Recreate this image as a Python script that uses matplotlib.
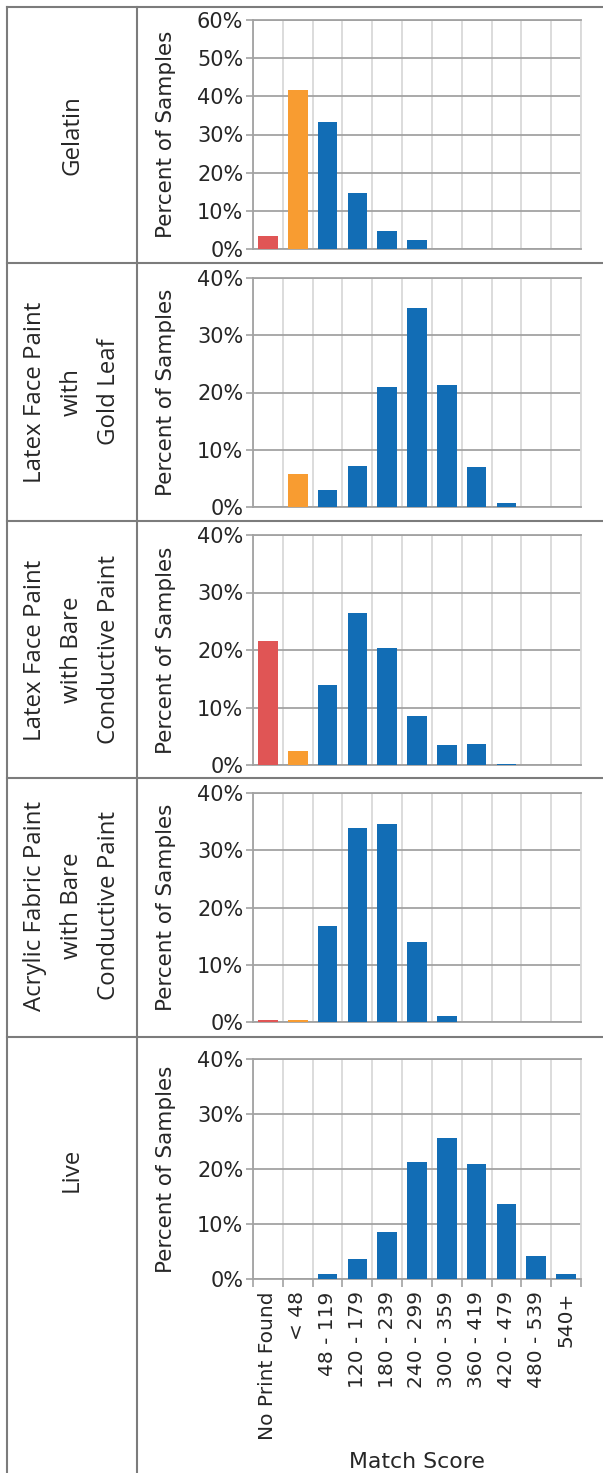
import numpy as np
import matplotlib.pyplot as plt
from matplotlib.lines import Line2D
from matplotlib.ticker import FuncFormatter

W, H = 603, 1473

categories = ['No Print Found', '< 48', '48 - 119', '120 - 179', '180 - 239',
              '240 - 299', '300 - 359', '360 - 419', '420 - 479', '480 - 539', '540+']

row_labels = ['Gelatin',
              'Latex Face Paint\nwith\nGold Leaf',
              'Latex Face Paint\nwith Bare\nConductive Paint',
              'Acrylic Fabric Paint\nwith Bare\nConductive Paint',
              'Live']

gelatin = [3.5, 41.7, 33.4, 14.7, 4.6, 2.3, 0, 0, 0, 0, 0]
latex_gold = [0, 5.8, 3.0, 7.2, 20.9, 34.8, 21.3, 6.9, 0.7, 0, 0]
latex_bare = [21.6, 2.4, 13.9, 26.4, 20.3, 8.5, 3.4, 3.7, 0.15, 0, 0]
acrylic_bare = [0.4, 0.4, 16.8, 33.9, 34.6, 14.0, 1.1, 0, 0, 0, 0]
live = [0, 0, 0.9, 3.6, 8.5, 21.3, 25.6, 20.9, 13.6, 4.2, 0.9]

series = [gelatin, latex_gold, latex_bare, acrylic_bare, live]
y_max = [60, 40, 40, 40, 40]

red, orange, blue = '#e05555', '#f89c31', '#126db5'
bar_colors = [red, orange] + [blue] * 9

dark_grid = '#a2a2a2'
light_grid = '#d9d9d9'
frame_col = '#7c7c7c'
text_col = '#262626'

plt.rcParams['font.family'] = ['DejaVu Sans']

fig = plt.figure(figsize=(W / 100, H / 100), dpi=100)

# axes boxes in pixels (top, bottom)
panels = [(20, 249), (278, 507), (535, 765), (793, 1022), (1059, 1279)]
row_lines = [7, 263, 521, 778, 1037]
label_mid = [135, 392, 650, 906, 1170]
ax_left, ax_right = 253, 581

x = np.arange(len(categories))

for k, vals in enumerate(series):
    top, bot = panels[k]
    ax = fig.add_axes([ax_left / W, 1 - bot / H, (ax_right - ax_left) / W, (bot - top) / H])
    ax.bar(x, vals, width=0.66, color=bar_colors, edgecolor='none', zorder=3)
    ax.set_xlim(-0.5, len(categories) - 0.5)
    ax.set_ylim(0, y_max[k])
    ax.set_yticks(np.arange(0, y_max[k] + 1, 10))
    ax.yaxis.set_major_formatter(FuncFormatter(lambda v, p: '%d%%' % v))
    ax.set_axisbelow(True)

    ax.set_xticks(np.arange(-0.5, len(categories)), minor=True)
    ax.grid(True, which='minor', axis='x', color=light_grid, lw=1.3)
    ax.grid(True, which='major', axis='y', color=dark_grid, lw=1.3)

    for s in ['left', 'bottom', 'top']:
        ax.spines[s].set_color(dark_grid)
        ax.spines[s].set_linewidth(1.3)
    ax.spines['right'].set_color(light_grid)
    ax.spines['right'].set_linewidth(1.3)

    ax.tick_params(axis='y', length=5, width=1.2, color=dark_grid, pad=2,
                   labelsize=15, labelcolor=text_col)
    ax.set_ylabel('Percent of Samples', fontsize=15.5, color=text_col)
    ax.yaxis.set_label_coords(-0.235, 0.5)

    if k == len(series) - 1:
        ax.set_xticks(x)
        ax.set_xticklabels(categories, rotation=90, fontsize=14.5, color=text_col)
        ax.tick_params(axis='x', which='major', length=0, pad=9)
        ax.tick_params(axis='x', which='minor', length=6, width=1.2, color=dark_grid)
        ax.set_xlabel('Match Score', fontsize=15.8, color=text_col, labelpad=9)
    else:
        ax.set_xticks([])
        ax.tick_params(axis='x', which='minor', length=0)

    # row label in left column
    fig.text(72 / W, 1 - label_mid[k] / H, row_labels[k], rotation=90, ha='center', va='center',
             multialignment='center', fontsize=17.3, family='Open Sans',
             color=text_col, linespacing=1.72)

# table frame
for yy in row_lines:
    fig.add_artist(Line2D([7 / W, 1], [1 - yy / H, 1 - yy / H], color=frame_col, lw=1.5))
for xx in [7, 137]:
    fig.add_artist(Line2D([xx / W, xx / W], [1 - 7 / H, 0], color=frame_col, lw=1.5))

fig.savefig('out.png', dpi=100)
